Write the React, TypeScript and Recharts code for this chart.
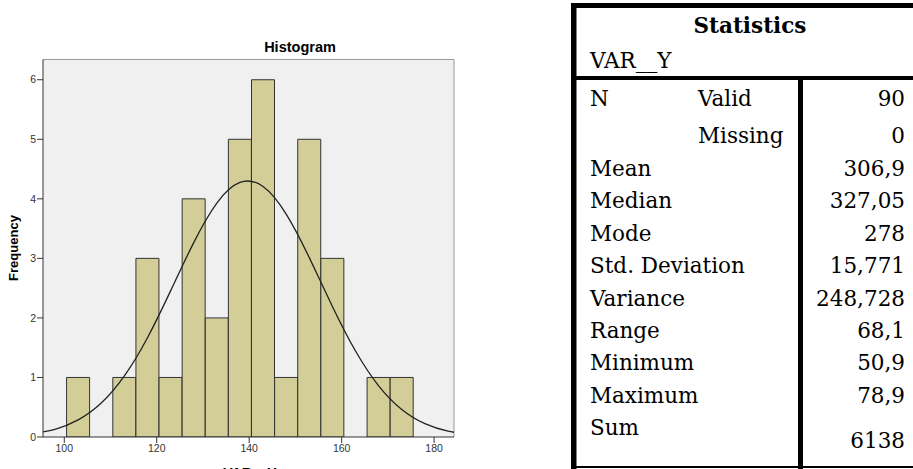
import React from 'react';
import { ComposedChart, Bar, Line, XAxis, YAxis, CartesianGrid, ReferenceLine } from 'recharts';

// histogram bins (width 5), centre of each bin
const binCenters = [103, 108, 113, 118, 123, 128, 133, 138, 143, 148, 153, 158, 163, 168, 173];
const binCounts = [1, 0, 1, 3, 1, 4, 2, 5, 6, 1, 5, 3, 0, 1, 1];

// normal curve at the same 5-unit steps
const curveX = [93, 98, 103, 108, 113, 118, 123, 128, 133, 138, 143, 148, 153, 158, 163, 168, 173, 178, 183, 188];
const curveY = [0.054, 0.13, 0.287, 0.57, 1.026, 1.668, 2.454, 3.265, 3.929, 4.275, 4.207, 3.744, 3.013, 2.193, 1.444, 0.86, 0.463, 0.225, 0.099, 0.04];

const xTicks = [100, 120, 140, 160, 180];
const yTicks = [0, 1, 2, 3, 4, 5, 6];

const statLabels = ['Mean', 'Median', 'Mode', 'Std. Deviation', 'Variance', 'Range', 'Minimum', 'Maximum', 'Sum'];
const statValues = ['306,9', '327,05', '278', '15,771', '248,728', '68,1', '50,9', '78,9', '6138'];

const X_MIN = 95.4;
const X_MAX = 184.3;
const Y_MAX = 6.34;

const chartData = curveX.map((x, i) => {
  const b = binCenters.indexOf(x);
  return { x, count: b >= 0 ? binCounts[b] : null, curve: curveY[i] };
});

const serif = '"DejaVu Serif", "Liberation Serif", serif';
const sans = '"Liberation Sans", Arial, sans-serif';

const StatsTable = () => (
  <svg width={913} height={469} style={{ position: 'absolute', left: 0, top: 0 }}>
    <rect x={571} y={3} width={342} height={5} fill="#000" />
    <rect x={571} y={3} width={5.5} height={466} fill="#000" />
    <rect x={571} y={76} width={342} height={4} fill="#000" />
    <rect x={798} y={78} width={5} height={391} fill="#000" />
    <rect x={571} y={466} width={342} height={2} fill="#000" />
    <g fontFamily={serif} fontSize={21.5} fill="#000">
      <text x={750} y={33} textAnchor="middle" fontWeight="bold">Statistics</text>
      <text x={590} y={68}>VAR__Y</text>
      <text x={590} y={106}>N</text>
      <text x={698} y={106}>Valid</text>
      <text x={905} y={106} textAnchor="end">90</text>
      <text x={698} y={143}>Missing</text>
      <text x={905} y={143} textAnchor="end">0</text>
      {statLabels.map((s, i) => (
        <text key={s} x={590} y={176 + i * 32.4}>{s}</text>
      ))}
      {statValues.map((v, i) => (
        <text key={v} x={905} y={i === statValues.length - 1 ? 447.7 : 176 + i * 32.4} textAnchor="end">{v}</text>
      ))}
    </g>
  </svg>
);

export default function App() {
  return (
    <div style={{ position: 'absolute', left: 0, top: 0, width: 913, height: 469, overflow: 'hidden', background: '#fff' }}>
      <ComposedChart
        width={460}
        height={469}
        data={chartData}
        margin={{ top: 59.5, right: 6, bottom: 10, left: 10 }}
        style={{ fontFamily: sans }}
      >
        <CartesianGrid horizontal={false} vertical={false} fill="#f0f0f0" />
        <XAxis
          dataKey="x"
          type="number"
          domain={[X_MIN, X_MAX]}
          allowDataOverflow
          ticks={xTicks}
          height={22}
          tickSize={6}
          axisLine={{ stroke: '#333' }}
          tickLine={{ stroke: '#333' }}
          tick={{ fontSize: 10.5, fill: '#333' }}
        />
        <YAxis
          type="number"
          domain={[0, Y_MAX]}
          allowDataOverflow
          ticks={yTicks}
          width={33}
          tickSize={6}
          tickMargin={1}
          axisLine={{ stroke: '#333' }}
          tickLine={{ stroke: '#333' }}
          tick={{ fontSize: 10.5, fill: '#333' }}
        />
        <ReferenceLine y={Y_MAX} stroke="#999" />
        <ReferenceLine x={X_MAX} stroke="#999" />
        <Bar dataKey="count" barSize={23} fill="#d3ce97" stroke="#333" strokeWidth={1} isAnimationActive={false} />
        <Line dataKey="curve" type="natural" stroke="#222" strokeWidth={1.3} dot={false} activeDot={false} connectNulls isAnimationActive={false} />
      </ComposedChart>
      <svg width={460} height={469} style={{ position: 'absolute', left: 0, top: 0, pointerEvents: 'none' }}>
        <text x={300} y={52} textAnchor="middle" fontFamily={sans} fontWeight="bold" fontSize={14.5} fill="#000">Histogram</text>
        <text x={18} y={248} transform="rotate(-90 18 248)" textAnchor="middle" fontFamily={sans} fontWeight="bold" fontSize={13} fill="#000">Frequency</text>
        <text x={250} y={478} textAnchor="middle" fontFamily={sans} fontWeight="bold" fontSize={14} fill="#000">VAR__Y</text>
      </svg>
      <StatsTable />
    </div>
  );
}
